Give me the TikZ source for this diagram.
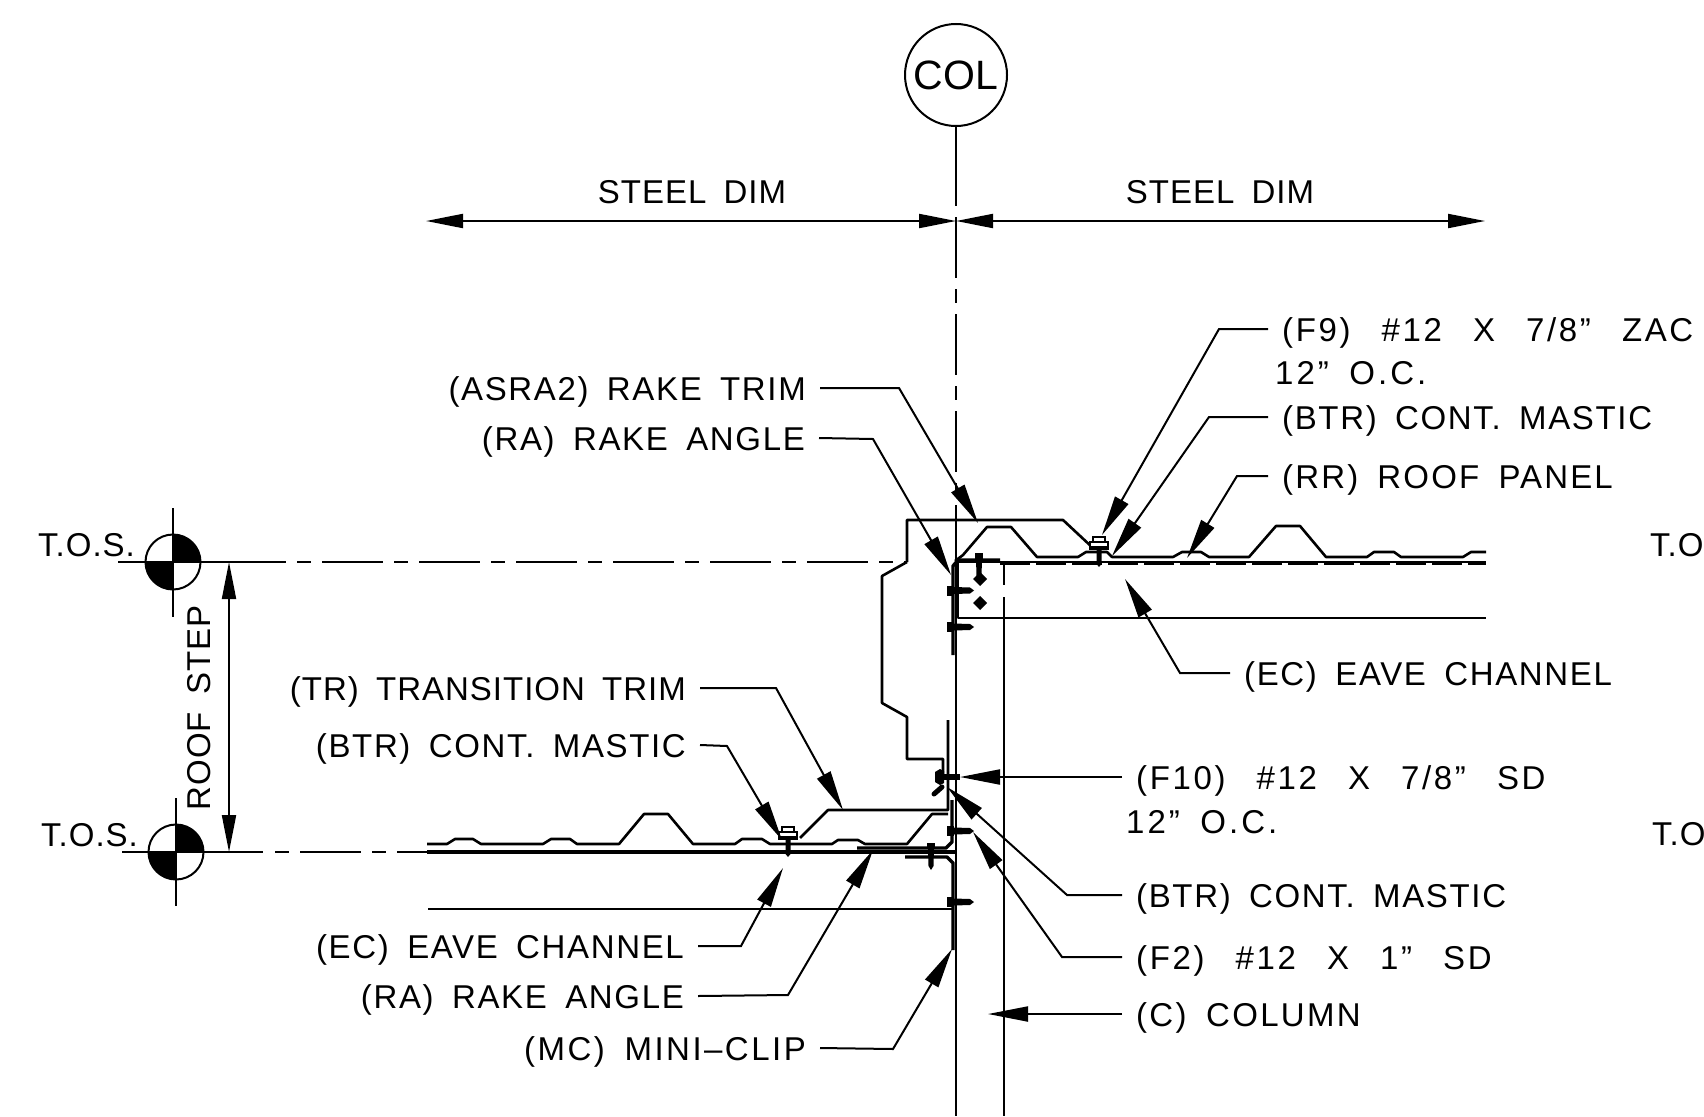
\documentclass[tikz,border=0pt]{standalone}
\usepackage{fontspec}
\setmainfont[WordSpace=1.7]{Liberation Sans}
\usetikzlibrary{arrows.meta}
\newcommand{\wgap}{\hspace{11pt}}
\tikzset{
  lbl/.style={font=\fontsize{33}{38}\selectfont\addfontfeatures{LetterSpace=#1}, inner xsep=14pt, inner ysep=0pt, text height=25pt, text depth=0pt},
  lbl/.default=3,
  leader/.style={line width=2pt, -{Triangle[length=40pt,width=15pt]}},
  dimline/.style={line width=2pt, {Triangle[length=37pt,width=14pt]}-{Triangle[length=37pt,width=14pt]}},
  thinline/.style={line width=2pt},
  sheet/.style={line width=2.6pt, line join=round},
  heavy/.style={line width=3.4pt, line join=round},
  cline/.style={line width=2pt, dash pattern=on 61pt off 11pt on 14pt off 11pt}
}
\begin{document}
\begin{tikzpicture}[x=1pt,y=-1pt]
\useasboundingbox (0,0) rectangle (1704,1116);

% column bubble and centre line
\node[draw, circle, line width=2pt, minimum size=102pt, inner sep=0pt, font=\fontsize{41}{46}\selectfont] (col) at (956,75) {COL};
\coordinate (clA) at (956,206);
\draw[thinline] (col.south) -- (clA);
\draw[cline] (956,217) -- (956,497);
\draw[thinline] (956,505) -- (956,1116);
\draw[thinline] (1004,563) -- (1004,585);
\draw[thinline] (1004,597) -- (1004,1116);

% steel dimensions
\coordinate (dimL) at (426,221);
\coordinate (dimM) at (956,221);
\coordinate (dimR) at (1485,221);
\draw[dimline] (dimL) -- (dimM);
\draw[dimline] (dimM) -- (dimR);
\node[lbl, inner xsep=0pt] (steelL) at (692,191) {STEEL DIM};
\node[lbl, inner xsep=0pt] (steelR) at (1220,191) {STEEL DIM};

% T.O.S. markers
\foreach \cx/\cy/\vt/\vb/\hl/\nm in {173/562/508/617/118/tosA, 176/852/798/906/122/tosB} {
    \fill (\cx,\cy) -- ++(27.5pt,0pt) arc[start angle=0, end angle=90, radius=27.5pt] -- cycle;
    \fill (\cx,\cy) -- ++(-27.5pt,0pt) arc[start angle=180, end angle=270, radius=27.5pt] -- cycle;
    \node[draw, circle, line width=2pt, minimum size=55pt, inner sep=0pt] (\nm) at (\cx,\cy) {};
    \draw[thinline] (\cx,\vt) -- (\cx,\vb);
    \draw[thinline] (\hl,\cy) -- (\cx,\cy);
}
\node[lbl, inner xsep=0pt, anchor=west] (tosTxtA) at (38,544) {T.O.S.};
\node[lbl, inner xsep=0pt, anchor=west] (tosTxtB) at (41,834) {T.O.S.};
\node[lbl, inner xsep=0pt, anchor=west] (tosTxtC) at (1650,544) {T.O};
\node[lbl, inner xsep=0pt, anchor=west] (tosTxtD) at (1652,833) {T.O};

% datum lines
\draw[thinline] (tosA.center) -- (225,562);
\draw[cline] (225,562) -- (907,562);
\draw[thinline] (tosB.center) -- (263,852);
\draw[line width=2pt, dash pattern=on 14pt off 11pt on 61pt off 11pt] (275,852) -- (427,852);

% roof step
\coordinate (stepT) at (229,562);
\coordinate (stepB) at (229,852);
\draw[dimline] (stepT) -- (stepB);
\node[lbl, inner xsep=0pt, rotate=90] (roofstep) at (198,708) {ROOF STEP};

% upper panel
\draw[sheet] (955,561) -- (963,555) -- (987,527) -- (1011,527) -- (1037,557) -- (1078,557) -- (1086,552) -- (1107,552)
  -- (1112,557) -- (1173,557) -- (1182,552) -- (1201,552) -- (1209,557) -- (1249,557) -- (1276,526) -- (1300,526)
  -- (1326,557) -- (1367,557) -- (1374,552) -- (1394,552) -- (1401,557) -- (1463,557) -- (1471,552) -- (1486,552);
\draw[line width=2pt] (955,561.5) -- (1486,561.5);
\draw[line width=2pt, dash pattern=on 30pt off 6pt] (1000,564) -- (1486,564);
\draw[sheet] (958,562) -- (958,618) -- (1486,618);

% rake and transition trim
\draw[sheet] (907,562) -- (907,520) -- (1063,520) -- (1093,548);
\draw[sheet] (907,562) -- (882,576) -- (882,703) -- (907,717) -- (907,759) -- (943,759) -- (943,775);
\draw[sheet] (948,720) -- (948,810) -- (828,810) -- (800,838);

% mini-clip, top
\draw[heavy] (953,655) -- (953,566) -- (958,560) -- (1000,560);

% lower panel
\draw[sheet] (427,844) -- (447,844) -- (455,839) -- (473,839) -- (481,844) -- (543,844) -- (551,839) -- (570,839)
  -- (577,844) -- (619,844) -- (644,814) -- (668,814) -- (693,844) -- (735,844) -- (742,839) -- (762,839) -- (770,844)
  -- (832,844) -- (838,840) -- (858,840) -- (865,844) -- (907,844) -- (932,814) -- (948,814);
\draw[heavy] (427,852) -- (956,852);
\draw[heavy] (857,848) -- (946,848) -- (952,842) -- (952,800);
\draw[heavy] (905,857) -- (947,857) -- (953,863) -- (953,950);
\draw[sheet] (428,909) -- (953,909);

% screws
\foreach \y in {590.5,627,831,902} {
    \fill (947,\y-5) rectangle (954,\y+5);
    \fill (954,\y-3.5) -- (970,\y-3) -- (974,\y) -- (970,\y+3) -- (954,\y+3.5) -- cycle;
}
\foreach \x/\y in {979/553, 931/843} {
    \fill (\x-4,\y) rectangle (\x+4,\y+6);
    \fill (\x-3,\y+6) -- (\x-2.5,\y+23) -- (\x,\y+27) -- (\x+2.5,\y+23) -- (\x+3,\y+6) -- cycle;
}
\foreach \x/\y in {980/579, 980/603} {
    \fill (\x,\y-7) -- (\x+7,\y) -- (\x,\y+7) -- (\x-7,\y) -- cycle;
}
\foreach \x/\y in {1099/537, 788/827} {
    \draw[line width=1.8pt, fill=white] (\x-6,\y) rectangle (\x+6,\y+5);
    \draw[line width=1.8pt, fill=white] (\x-9,\y+5) rectangle (\x+9,\y+10);
    \fill (\x-10,\y+10) rectangle (\x+10,\y+13);
    \fill (\x-2.5,\y+13) -- (\x-2.5,\y+27) -- (\x,\y+30) -- (\x+2.5,\y+27) -- (\x+2.5,\y+13) -- cycle;
}
% side fastener and mastic
\fill (935,772) -- (940,769) -- (944,771) -- (944,783) -- (940,785) -- (935,782) -- cycle;
\fill (944,774) rectangle (960,780);
\draw[line width=5pt, line cap=round] (934,794) -- (942,787);

% labels, left side
\node[lbl=5, anchor=east] (asra) at (820,388) {(ASRA2) RAKE TRIM};
\node[lbl=5, anchor=east] (raUp) at (819,438) {(RA) RAKE ANGLE};
\node[lbl=3, anchor=east] (trans) at (700,688) {(TR) TRANSITION TRIM};
\node[lbl=5, anchor=east] (btrLow) at (700,745) {(BTR) CONT. MASTIC};
\node[lbl=5, anchor=east] (ecLow) at (698,946) {(EC) EAVE CHANNEL};
\node[lbl=5, anchor=east] (raLow) at (698,996) {(RA) RAKE ANGLE};
\node[lbl=7.5, anchor=east] (miniclip) at (820,1048) {(MC) MINI--CLIP};

% labels, right side
\node[lbl=8, anchor=west] (fnine) at (1268,329) {(F9) \wgap\#12 \wgap X \wgap 7/8” \wgap ZAC};
\node[lbl=9, anchor=west] (fnineB) at (1261,372) {12” O.C.};
\node[lbl=5, anchor=west] (btrUp) at (1268,417) {(BTR) CONT. MASTIC};
\node[lbl=6.5, anchor=west] (panel) at (1268,476) {(RR) ROOF PANEL};
\node[lbl=5, anchor=west] (ecUp) at (1230,673) {(EC) EAVE CHANNEL};
\node[lbl=8, anchor=west] (ften) at (1122,777) {(F10) \wgap\#12 \wgap X \wgap 7/8” \wgap SD};
\node[lbl=9, anchor=west] (ftenB) at (1112,821) {12” O.C.};
\node[lbl=5, anchor=west] (btrMid) at (1122,895) {(BTR) CONT. MASTIC};
\node[lbl=8, anchor=west] (ftwo) at (1122,957) {(F2) \wgap\#12 \wgap X \wgap 1” \wgap SD};
\node[lbl=7, anchor=west] (column) at (1122,1014) {(C) COLUMN};

% leaders
\draw[leader] (asra.east) -- (899,388) -- (978,523);
\draw[leader] (raUp.east) -- (873,439) -- (951,575);
\draw[leader] (trans.east) -- (776,688) -- (843,810);
\draw[leader] (btrLow.east) -- (727,746) -- (782,840);
\draw[leader] (ecLow.east) -- (741,946) -- (783,868);
\draw[leader] (raLow.east) -- (788,995) -- (873,850);
\draw[leader] (miniclip.east) -- (893,1049) -- (952,949);
\draw[leader] (fnine.west) -- (1219,329) -- (1102,535);
\draw[leader] (btrUp.west) -- (1209,417) -- (1112,556);
\draw[leader] (panel.west) -- (1237,476) -- (1187,558);
\draw[leader] (ecUp.west) -- (1180,673) -- (1125,579);
\draw[leader] (ften.west) -- (960,777);
\draw[leader] (btrMid.west) -- (1067,895) -- (947,787);
\draw[leader] (ftwo.west) -- (1062,957) -- (973,832);
\draw[leader] (column.west) -- (988,1014);
\end{tikzpicture}
\end{document}
